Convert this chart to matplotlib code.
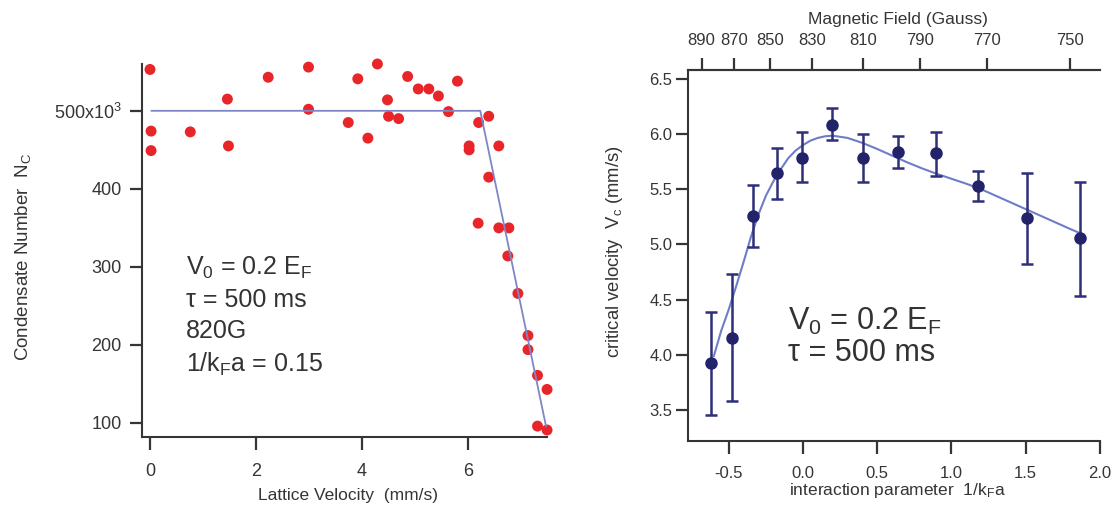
import matplotlib.pyplot as plt
import numpy as np

plt.rcParams['font.family'] = ['Liberation Sans', 'DejaVu Sans']
plt.rcParams['mathtext.fontset'] = 'custom'
plt.rcParams['mathtext.rm'] = 'Liberation Sans'
plt.rcParams['mathtext.it'] = 'Liberation Sans:italic'
plt.rcParams['axes.unicode_minus'] = False

# left panel: condensate number vs lattice velocity (x10^3)
lattice_v = [0.00, 0.02, 0.02, 0.76, 1.46, 1.48, 2.23, 2.99, 2.99, 3.74,
             3.92, 4.11, 4.29, 4.48, 4.50, 4.69, 4.86, 5.06, 5.26, 5.44,
             5.63, 5.80, 6.02, 6.02, 6.20, 6.19, 6.39, 6.39, 6.58, 6.58,
             6.77, 6.75, 6.94, 7.13, 7.13, 7.31, 7.49, 7.31, 7.49]
condensate_n = [553, 474, 449, 473, 515, 455, 543, 556, 502, 485,
                541, 465, 560, 514, 493, 490, 544, 528, 528, 519,
                499, 538, 455, 450, 485, 356, 493, 415, 455, 350,
                350, 314, 266, 212, 194, 161, 143, 96, 91]
fit_v = [0.03, 6.23, 7.47]
fit_n = [500, 500, 96]

# right panel: critical velocity vs interaction parameter
inter_param = [-0.619, -0.480, -0.336, -0.174, -0.004, 0.195, 0.403, 0.642, 0.895, 1.179, 1.506, 1.864]
vc = [3.93, 4.15, 5.26, 5.645, 5.787, 6.083, 5.787, 5.836, 5.827, 5.525, 5.238, 5.057]
vc_low = [3.457, 3.58, 4.98, 5.413, 5.564, 5.948, 5.57, 5.69, 5.62, 5.39, 4.824, 4.537]
vc_high = [4.39, 4.73, 5.535, 5.87, 6.017, 6.235, 6.0, 5.978, 6.017, 5.667, 5.646, 5.57]

curve_x = [-0.60, -0.55, -0.50, -0.45, -0.40, -0.35, -0.30, -0.25, -0.20, -0.15,
           -0.10, -0.05, 0.00, 0.05, 0.10, 0.15, 0.20, 0.30, 0.40, 0.50,
           0.60, 0.70, 0.80, 0.90, 1.00, 1.10, 1.20, 1.40, 1.60, 1.80, 1.87]
curve_y = [3.99, 4.22, 4.41, 4.62, 4.84, 5.07, 5.27, 5.44, 5.57, 5.68,
           5.78, 5.85, 5.90, 5.94, 5.965, 5.98, 5.985, 5.965, 5.92, 5.865,
           5.805, 5.745, 5.69, 5.64, 5.595, 5.55, 5.50, 5.38, 5.26, 5.14, 5.10]

field_gauss = ['890', '870', '850', '830', '810', '790', '770', '750']
field_pos = [-0.682, -0.465, -0.219, 0.063, 0.404, 0.786, 1.238, 1.795]

ink = '#353535'

fig = plt.figure(figsize=(11.19, 5.07), dpi=100)

# ---- left panel
ax1 = fig.add_axes([0.1267, 0.138, 0.3617, 0.7358])
ax1.plot(fit_v, fit_n, color='#7f86c6', lw=1.3, zorder=3)
ax1.scatter(lattice_v, condensate_n, s=62, color='#e8262a', edgecolors='none',
            zorder=2, clip_on=False)
ax1.set_xlim(-0.155, 7.48)
ax1.set_ylim(82, 560)
ax1.set_xticks([0, 2, 4, 6])
ax1.set_yticks([100, 200, 300, 400, 500])
ax1.set_yticklabels(['100', '200', '300', '400', '500x10$^3$'])
for s in ['top', 'right']:
    ax1.spines[s].set_visible(False)
for s in ['left', 'bottom']:
    ax1.spines[s].set_color(ink)
    ax1.spines[s].set_linewidth(1.5)
ax1.tick_params(axis='both', direction='out', length=9, width=1.6, color=ink,
                labelcolor=ink, labelsize=13)
ax1.tick_params(axis='x', pad=9.5)
ax1.tick_params(axis='y', pad=5.5)
ax1.set_xlabel('Lattice Velocity  (mm/s)', fontsize=12.5, color=ink)
ax1.xaxis.set_label_coords(0.51, -0.137)
ax1.set_ylabel('Condensate Number  N$_\\mathregular{C}$', fontsize=13.5, color=ink)
ax1.yaxis.set_label_coords(-0.268, 0.483)

left_notes = ['V$_\\mathregular{0}$ = 0.2 E$_\\mathregular{F}$', '\u03c4 = 500 ms', '820G',
              '1/k$_\\mathregular{F}$a = 0.15']
for i, t in enumerate(left_notes):
    ax1.text(0.67, [289.7, 249, 208.7, 166][i], t, fontsize=18, color='#333333',
             va='baseline', ha='left')

# ---- right panel
ax2 = fig.add_axes([0.6151, 0.1302, 0.3679, 0.7317])
ax2.plot(curve_x, curve_y, color='#6f7cc8', lw=1.5, zorder=2)
vc_arr = np.array(vc)
yerr = [vc_arr - np.array(vc_low), np.array(vc_high) - vc_arr]
ax2.errorbar(inter_param, vc, yerr=yerr, fmt='o', ms=8, color='#23236a',
             ecolor='#2e2e7a', elinewidth=1.8, capsize=4, capthick=1.8, zorder=3)
ax2.set_xlim(-0.772, 2.0)
ax2.set_ylim(3.22, 6.58)
ax2.set_xticks([-0.5, 0.0, 0.5, 1.0, 1.5, 2.0])
ax2.set_xticklabels(['-0.5', '0.0', '0.5', '1.0', '1.5', '2.0'])
ax2.set_yticks([3.5, 4.0, 4.5, 5.0, 5.5, 6.0, 6.5])
ax2.set_yticklabels(['3.5', '4.0', '4.5', '5.0', '5.5', '6.0', '6.5'])
ax2.spines['right'].set_visible(False)
for s in ['left', 'bottom', 'top']:
    ax2.spines[s].set_color(ink)
    ax2.spines[s].set_linewidth(1.5)
ax2.tick_params(axis='both', direction='out', length=9, width=1.6, color=ink,
                labelcolor=ink, labelsize=12)
ax2.tick_params(axis='x', pad=9)
ax2.tick_params(axis='y', pad=2.5)
ax2.set_xlabel('interaction parameter  1/k$_\\mathregular{F}$a', fontsize=12.5, color=ink)
ax2.xaxis.set_label_coords(0.509, -0.108)
ax2.set_ylabel('critical velocity  V$_\\mathregular{c}$ (mm/s)', fontsize=13.3, color=ink)
ax2.yaxis.set_label_coords(-0.153, 0.51)

ax2.text(-0.10, 4.23, 'V$_\\mathregular{0}$ = 0.2 E$_\\mathregular{F}$', fontsize=22,
         color='#333333', va='baseline')
ax2.text(-0.10, 3.94, '\u03c4 = 500 ms', fontsize=22, color='#333333', va='baseline')

top = ax2.twiny()
top.set_xlim(ax2.get_xlim())
top.set_xticks(field_pos)
top.set_xticklabels(field_gauss)
for s in ['left', 'right', 'bottom']:
    top.spines[s].set_visible(False)
top.spines['top'].set_color(ink)
top.spines['top'].set_linewidth(1.5)
top.tick_params(axis='x', direction='out', length=9, width=1.6, color=ink,
                labelcolor=ink, labelsize=12, pad=6.5)
top.set_xlabel('Magnetic Field (Gauss)', fontsize=12.5, color=ink)
top.xaxis.set_label_coords(0.509, 1.124)

fig.savefig('out.png', dpi=100)
